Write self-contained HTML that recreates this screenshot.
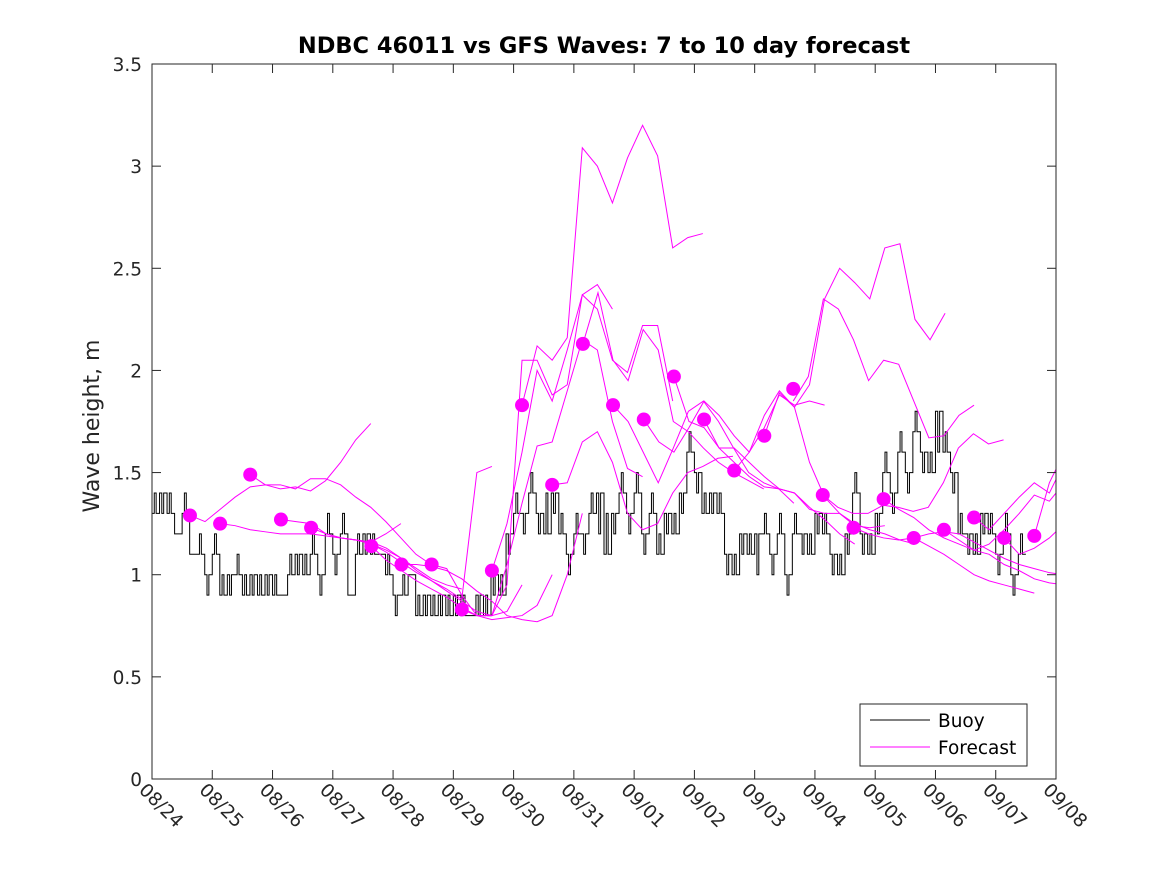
<!DOCTYPE html>
<html><head><meta charset="utf-8"><style>
body{margin:0;background:#fff;}
svg{display:block;font-family:"DejaVu Sans","Liberation Sans",sans-serif;}
</style></head><body>
<svg id="chart" width="1167" height="875" viewBox="0 0 1167 875">
<rect x="0" y="0" width="1167" height="875" fill="#fff"/>
<g id="plot"></g>
<g id="axes"></g>
<text x="604" y="53" text-anchor="middle" font-size="22.5" font-weight="bold" fill="#000">NDBC 46011 vs GFS Waves: 7 to 10 day forecast</text>
<text transform="translate(99,426) rotate(-90)" text-anchor="middle" font-size="22" fill="#262626">Wave height, m</text>
<g>
<rect x="860" y="704" width="167" height="62" fill="#fff" stroke="#262626" stroke-width="1"/>
<line x1="870" y1="720" x2="930" y2="720" stroke="#000" stroke-width="1"/>
<text x="938" y="727" font-size="18.5" fill="#000">Buoy</text>
<line x1="870" y1="747" x2="930" y2="747" stroke="#ff00ff" stroke-width="1"/>
<text x="938" y="754" font-size="18.5" fill="#000">Forecast</text>
</g>
</svg>
<script>
const xTickLabels=["08/24","08/25","08/26","08/27","08/28","08/29","08/30","08/31","09/01","09/02","09/03","09/04","09/05","09/06","09/07","09/08"];
const yTicks=[0,0.5,1,1.5,2,2.5,3,3.5];
const yTickLabels=["0","0.5","1","1.5","2","2.5","3","3.5"];
const buoyStep=0.125;
const buoyValues=[1.3,1.4,1.3,1.2,1.3,1.1,1.1,1.0,1.1,0.9,1.0,1.0,0.9,1.0,0.9,1.0,0.9,0.9,1.0,1.1,1.0,1.1,1.0,1.2,1.1,1.2,0.9,1.1,1.2,1.1,1.1,1.0,0.9,0.9,1.0,0.8,0.9,0.8,0.9,0.8,0.9,0.8,0.8,0.9,0.8,1.0,0.9,1.2,1.3,1.3,1.4,1.3,1.2,1.4,1.2,1.1,1.2,1.2,1.3,1.4,1.1,1.3,1.4,1.3,1.4,1.2,1.3,1.1,1.3,1.2,1.4,1.6,1.5,1.3,1.4,1.3,1.1,1.0,1.2,1.1,1.2,1.2,1.1,1.2,1.0,1.2,1.2,1.1,1.3,1.2,1.1,1.0,1.2,1.4,1.2,1.1,1.3,1.5,1.4,1.6,1.5,1.7,1.6,1.5,1.8,1.6,1.5,1.2,1.2,1.1,1.3,1.2,1.1,1.2,1.0,1.1];
const buoyNoise=[0.1,-0.1,0.1,0,0.1,0,0.1,-0.1,0.1,0.1,-0.1,0.1,0.1,-0.1,0.1,-0.1,0.1,0,0.1,-0.1,0.1,0.1,-0.1,0.1,-0.1,0.1,0,0.1,-0.1,0.1,0,0.1,-0.1,0.1,0,0.1,-0.1,0.1,-0.1,0.1,-0.1,0.1,0,-0.1,0.1,-0.1,0.1,-0.1,0.1,-0.1,0.1,-0.1,0.2,-0.1,0.1,-0.1,0.1,-0.1,0.1,-0.2,0.2,-0.1,0.1,-0.1,0.1,-0.1,0.1,0.1,-0.1,0.1,-0.1,0.1,-0.1,0.1,-0.1,0.1,-0.1,0.1,-0.1,0.1,-0.2,0.1,-0.1,0.1,-0.1,0.1,-0.1,0.1,-0.1,0.1,-0.1,0.1,-0.1,0.1,-0.1,0.1,-0.1,0.1,-0.1,0.1,-0.1,0.1,-0.1,0.1,-0.2,0.1,-0.1,0.1,-0.1,0.1,-0.1,0.1,-0.1,0.1,-0.1,0.1];
const forecastStartDays=[0.63,1.13,1.63,2.14,2.64,3.14,3.64,4.14,4.64,5.14,5.64,6.14,6.64,7.15,7.65,8.16,8.66,9.16,9.66,10.16,10.64,11.13,11.64,12.14,12.64,13.14,13.64,14.14,14.64];
const forecastDotValues=[1.29,1.25,1.49,1.27,1.23,null,1.14,1.05,1.05,0.83,1.02,1.83,1.44,2.13,1.83,1.76,1.97,1.76,1.51,1.68,1.91,1.39,1.23,1.37,1.18,1.22,1.28,1.18,1.19];
const forecastStep=0.25;
const f0=[1.29,1.26,1.32,1.38,1.43,1.44,1.42,1.43,1.41,1.46,1.55,1.66,1.74];
const f1=[1.25,1.24,1.22,1.21,1.20,1.20,1.20,1.19,1.18,1.17,1.16,1.20,1.25];
const f2=[1.49,1.44,1.44,1.42,1.47,1.47,1.44,1.38,1.33,1.26,1.18,1.10,1.05];
const f3=[1.27,1.26,1.25,1.20,1.18,1.17,1.16,1.13,1.08,1.03,0.98,0.95,0.93];
const f4=[1.23,1.20,1.18,1.17,1.15,1.11,1.06,1.01,0.97,0.93,0.88,1.50,1.53];
const f5=[1.18,1.17,1.15,1.12,1.08,1.02,0.97,0.92,0.87,0.82,0.80,0.82,0.95];
const f6=[1.14,1.07,1.02,0.97,0.93,0.89,0.84,0.80,0.78,0.79,0.80,0.85,1.00];
const f7=[1.05,1.05,1.04,1.02,0.98,0.92,0.87,0.80,0.78,0.77,0.80,1.00,1.30];
const f8=[1.05,1.03,0.90,0.80,0.80,0.95,2.05,2.05,1.88,1.93,2.37,2.42,2.30];
const f9=[0.83,0.80,0.80,1.05,1.35,1.63,1.65,1.90,2.15,2.10,1.75,1.52,1.48];
const f10=[1.02,1.25,1.60,2.00,1.85,2.10,2.37,2.30,2.05,1.99,2.22,2.22,1.85];
const f11=[1.83,2.12,2.05,2.16,3.09,3.00,2.82,3.04,3.20,3.05,2.60,2.65,2.67];
const f12=[1.44,1.45,1.65,1.70,1.55,1.30,1.22,1.25,1.40,1.50,1.53,1.57,1.58];
const f13=[2.13,2.38,2.05,1.95,2.20,2.10,1.75,1.70,1.62,1.55,1.50,1.46,1.42];
const f14=[1.83,1.75,1.60,1.45,1.62,1.80,1.85,1.75,1.62,1.50,1.45,1.42,1.35];
const f15=[1.76,1.65,1.60,1.72,1.85,1.78,1.68,1.60,1.72,1.88,1.83,1.85,1.83];
const f16=[1.97,1.75,1.72,1.62,1.62,1.55,1.48,1.42,1.40,1.33,1.27,1.20,1.15];
const f17=[1.76,1.62,1.55,1.48,1.43,1.42,1.40,1.32,1.30,1.30,1.24,1.23,1.24];
const f18=[1.51,1.60,1.78,1.90,1.82,1.55,1.38,1.30,1.25,1.22,1.20,1.17,1.15];
const f19=[1.68,1.89,1.82,1.93,2.35,2.50,2.43,2.35,2.60,2.62,2.25,2.15,2.28];
const f20=[1.85,1.97,2.35,2.30,2.15,1.95,2.05,2.03,1.85,1.67,1.68,1.78,1.83];
const f21=[1.39,1.33,1.30,1.30,1.34,1.33,1.31,1.33,1.45,1.62,1.69,1.64,1.66];
const f22=[1.23,1.20,1.18,1.17,1.18,1.14,1.10,1.05,1.00,0.97,0.95,0.93,0.91];
const f23=[1.37,1.32,1.28,1.22,1.18,1.15,1.12,1.10,1.05,1.02,0.98,0.96,0.95];
const f24=[1.18,1.20,1.21,1.20,1.16,1.12,1.08,1.05,1.03,1.01,1.00,1.00,1.00];
const f25=[1.22,1.17,1.12,1.15,1.22,1.30,1.39,1.36,1.45,1.50,1.50,1.50,1.50];
const f26=[1.28,1.22,1.30,1.38,1.45,1.40,1.55,1.60,1.60,1.60,1.60,1.60,1.60];
const f27=[1.18,1.10,1.13,1.18,1.25,1.30,1.30,1.30,1.30,1.30,1.30,1.30,1.30];
const f28=[1.19,1.45,1.60,1.60,1.60,1.60,1.60,1.60,1.60,1.60,1.60,1.60,1.60];
const forecastSeries=[f0,f1,f2,f3,f4,f5,f6,f7,f8,f9,f10,f11,f12,f13,f14,f15,f16,f17,f18,f19,f20,f21,f22,f23,f24,f25,f26,f27,f28];

const NS="http://www.w3.org/2000/svg";
const X0=152,X1=1056,Y0=779,Y1=64,DAYS=15,YMAX=3.5;
function xs(d){return X0+(X1-X0)*d/DAYS;}
function ys(v){return Y0-(Y0-Y1)*v/YMAX;}
const plot=document.getElementById('plot');
const axes=document.getElementById('axes');
const defs=document.createElementNS(NS,'defs');
defs.innerHTML='<clipPath id="clip"><rect x="152" y="64" width="904" height="715"/></clipPath>';
document.getElementById('chart').prepend(defs);
plot.setAttribute('clip-path','url(#clip)');

let d='';
buoyValues.forEach((v,i)=>{
  const x=xs(i*buoyStep), xe=xs((i+1)*buoyStep);
  const a=xs((i+0.3)*buoyStep), b=xs((i+0.55)*buoyStep);
  const v2=v+buoyNoise[i];
  if(i===0) d+='M'+x+','+ys(v); else d+='L'+x+','+ys(v);
  d+='L'+a+','+ys(v)+'L'+a+','+ys(v2)+'L'+b+','+ys(v2)+'L'+b+','+ys(v)+'L'+xe+','+ys(v);
});
const buoy=document.createElementNS(NS,'path');
buoy.setAttribute('d',d);
buoy.setAttribute('fill','none');buoy.setAttribute('stroke','#000');buoy.setAttribute('stroke-width','1');


plot.appendChild(buoy);

forecastSeries.forEach((s,k)=>{
  const pts=s.map((v,j)=>xs(forecastStartDays[k]+j*forecastStep)+','+ys(v)).join(' ');
  const pl=document.createElementNS(NS,'polyline');
  pl.setAttribute('points',pts);
  pl.setAttribute('fill','none');pl.setAttribute('stroke','#ff00ff');pl.setAttribute('stroke-width','1');
  
  
  plot.appendChild(pl);
});
forecastDotValues.forEach((v,k)=>{
  if(v===null) return;
  const c=document.createElementNS(NS,'circle');
  c.setAttribute('cx',xs(forecastStartDays[k]));c.setAttribute('cy',ys(v));c.setAttribute('r','7');
  c.setAttribute('fill','#ff00ff');
  
  
  plot.appendChild(c);
});

const box=document.createElementNS(NS,'rect');
box.setAttribute('x',X0);box.setAttribute('y',Y1);box.setAttribute('width',X1-X0);box.setAttribute('height',Y0-Y1);
box.setAttribute('fill','none');box.setAttribute('stroke','#262626');box.setAttribute('stroke-width','1');


axes.appendChild(box);
function line(x1,y1,x2,y2,name){
  const l=document.createElementNS(NS,'line');
  l.setAttribute('x1',x1);l.setAttribute('y1',y1);l.setAttribute('x2',x2);l.setAttribute('y2',y2);
  l.setAttribute('stroke','#262626');l.setAttribute('stroke-width','1');
  
  
  axes.appendChild(l);
}
yTicks.forEach((v,i)=>{
  const y=ys(v);
  line(X0,y,X0+9,y,'y-tick');line(X1,y,X1-9,y,'y-tick-right');
  const t=document.createElementNS(NS,'text');
  t.setAttribute('x',X0-10);t.setAttribute('y',y+7);t.setAttribute('text-anchor','end');
  t.setAttribute('font-size','18.5');t.setAttribute('fill','#262626');
  t.textContent=yTickLabels[i];
  
  
  axes.appendChild(t);
});
xTickLabels.forEach((lab,i)=>{
  const x=xs(i);
  line(x,Y0,x,Y0-9,'x-tick');line(x,Y1,x,Y1+9,'x-tick-top');
  const t=document.createElementNS(NS,'text');
  t.setAttribute('transform','translate('+(x-14)+','+(Y0+12)+') rotate(45)');
  t.setAttribute('font-size','18.5');t.setAttribute('fill','#262626');
  t.textContent=lab;
  
  
  axes.appendChild(t);
});
</script>
</body></html>
